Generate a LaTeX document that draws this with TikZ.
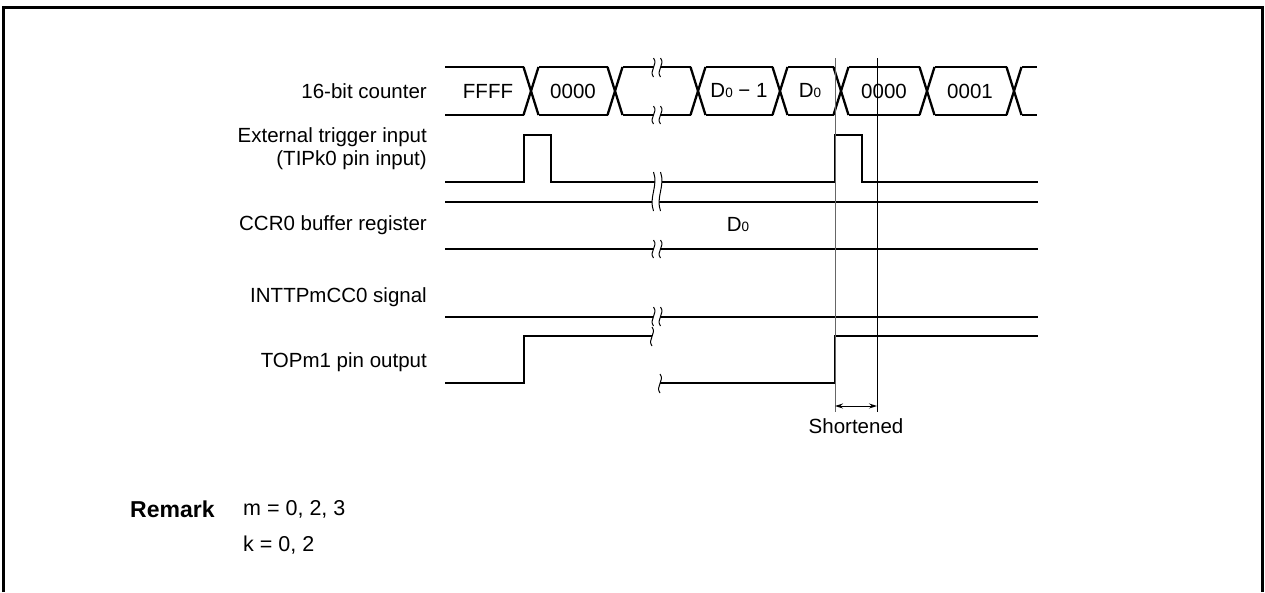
\documentclass[tikz,border=0pt]{standalone}
\usepackage{fontspec}
\setmainfont{Liberation Sans}
\usetikzlibrary{arrows.meta}
\newcommand\subz[1]{{\fontsize{13.5}{14}\selectfont #1}}
% break mark: two S-curves with a white gap between
\newcommand\brk[3]{%
  \fill[white] ({#1-3.5},{#2}) .. controls ({#1+1.5},{#2+0.35*(#3-#2)}) and ({#1-8.5},{#2+0.65*(#3-#2)}) .. ({#1-3.5},{#3})
     -- ({#1+3.5},{#3}) .. controls ({#1-1.5},{#2+0.65*(#3-#2)}) and ({#1+8.5},{#2+0.35*(#3-#2)}) .. ({#1+3.5},{#2}) -- cycle;
  \draw[brkline] ({#1-3.5},{#2}) .. controls ({#1+1.5},{#2+0.35*(#3-#2)}) and ({#1-8.5},{#2+0.65*(#3-#2)}) .. ({#1-3.5},{#3});
  \draw[brkline] ({#1+3.5},{#2}) .. controls ({#1+8.5},{#2+0.35*(#3-#2)}) and ({#1-1.5},{#2+0.65*(#3-#2)}) .. ({#1+3.5},{#3});}
\newcommand\brkone[3]{%
  \draw[brkline] ({#1},{#2}) .. controls ({#1+5},{#2+0.35*(#3-#2)}) and ({#1-5},{#2+0.65*(#3-#2)}) .. ({#1},{#3});}
\begin{document}
\begin{tikzpicture}[x=1pt,y=-1pt,
  sig/.style={line width=2.3pt},
  brkline/.style={line width=1pt},
  lbl/.style={anchor=east, inner sep=0pt, font=\fontsize{20.5}{24}\selectfont},
  val/.style={inner sep=0pt, font=\fontsize{20.5}{24}\selectfont},
  txt/.style={anchor=west, inner sep=0pt, font=\fontsize{21.5}{26}\selectfont},
  refline/.style={line width=0.9pt}]
\useasboundingbox (0,0) rectangle (1265,592);
% frame
\draw[line width=3pt] (3,592) -- (3,7) -- (1262,7) -- (1262,592);

% labels
\node[lbl] (l1) at (427,91) {16-bit counter};
\node[lbl] (l2) at (427,137) {External trigger input};
\node[lbl] (l2b) at (427,160) {(TIPk0 pin input)};
\node[lbl] (l3) at (427,225) {CCR0 buffer register};
\node[lbl] (l4) at (427,297) {INTTPmCC0 signal};
\node[lbl] (l5) at (427,362) {TOPm1 pin output};

% 16-bit counter bus
\draw[sig] (445,67) -- (523.5,67) (445,115) -- (523.5,115);
\foreach \c in {531,615,698,780,841,927,1014}
  \draw[sig] (\c-7.5,67) -- (\c+7.5,115) (\c-7.5,115) -- (\c+7.5,67);
\foreach \a/\b in {531/615,615/698,698/780,780/841,841/927,927/1014}
  \draw[sig] (\a+7.5,67) -- (\b-7.5,67) (\a+7.5,115) -- (\b-7.5,115);
\draw[sig] (1021.5,67) -- (1037,67) (1021.5,115) -- (1037,115);
\node[val] (v1) at (488,91) {FFFF};
\node[val] (v2) at (573,91) {0000};
\node[val] (v3) at (739,91) {D\subz{0} − 1};
\node[val] (v4) at (810,91) {D\subz{0}};
\node[val] (v5) at (884,91) {0000};
\node[val] (v6) at (970,91) {0001};

% external trigger
\draw[sig] (445,182) -- (524,182) -- (524,135) -- (551,135) -- (551,182) -- (835,182)
  -- (835,135) -- (862,135) -- (862,182) -- (1038,182);
% CCR0 buffer register
\draw[sig] (445,202) -- (1038,202) (445,249) -- (1038,249);
\node[val] (v7) at (738,225) {D\subz{0}};
% INTTPmCC0
\draw[sig] (445,317) -- (1038,317);
% TOPm1
\draw[sig] (445,383) -- (524,383) -- (524,336) -- (652,336);
\draw[sig] (660,383) -- (835,383) -- (835,336) -- (1038,336);

% breaks
\brk{657}{58}{77}
\brk{657}{106}{124}
\brk{657}{172}{211}
\brk{657}{240}{258}
\brk{657}{307}{326}
\brkone{652}{327}{346}
\brkone{660}{374}{393}

% reference lines
\coordinate (ra) at (835,58);
\coordinate (rb) at (877,58);
\coordinate (ra2) at (835,412);
\coordinate (rb2) at (877,412);
\draw[refline, black!60] (ra) -- (ra2);
\draw[refline] (rb) -- (rb2);
\coordinate (aa) at (835,406);
\coordinate (ab) at (877,406);
\draw[line width=0.9pt, {Stealth[length=8pt,width=5pt]}-{Stealth[length=8pt,width=5pt]}] (aa) -- (ab);
\node[val] (sh) at (856,426) {Shortened};

% remark
\node[txt, font=\fontsize{23}{27}\selectfont\bfseries] (rm) at (130,509) {Remark};
\node[txt] (r1) at (243,509) {m = 0, 2, 3};
\node[txt] (r2) at (243,545) {k = 0, 2};
\end{tikzpicture}
\end{document}
